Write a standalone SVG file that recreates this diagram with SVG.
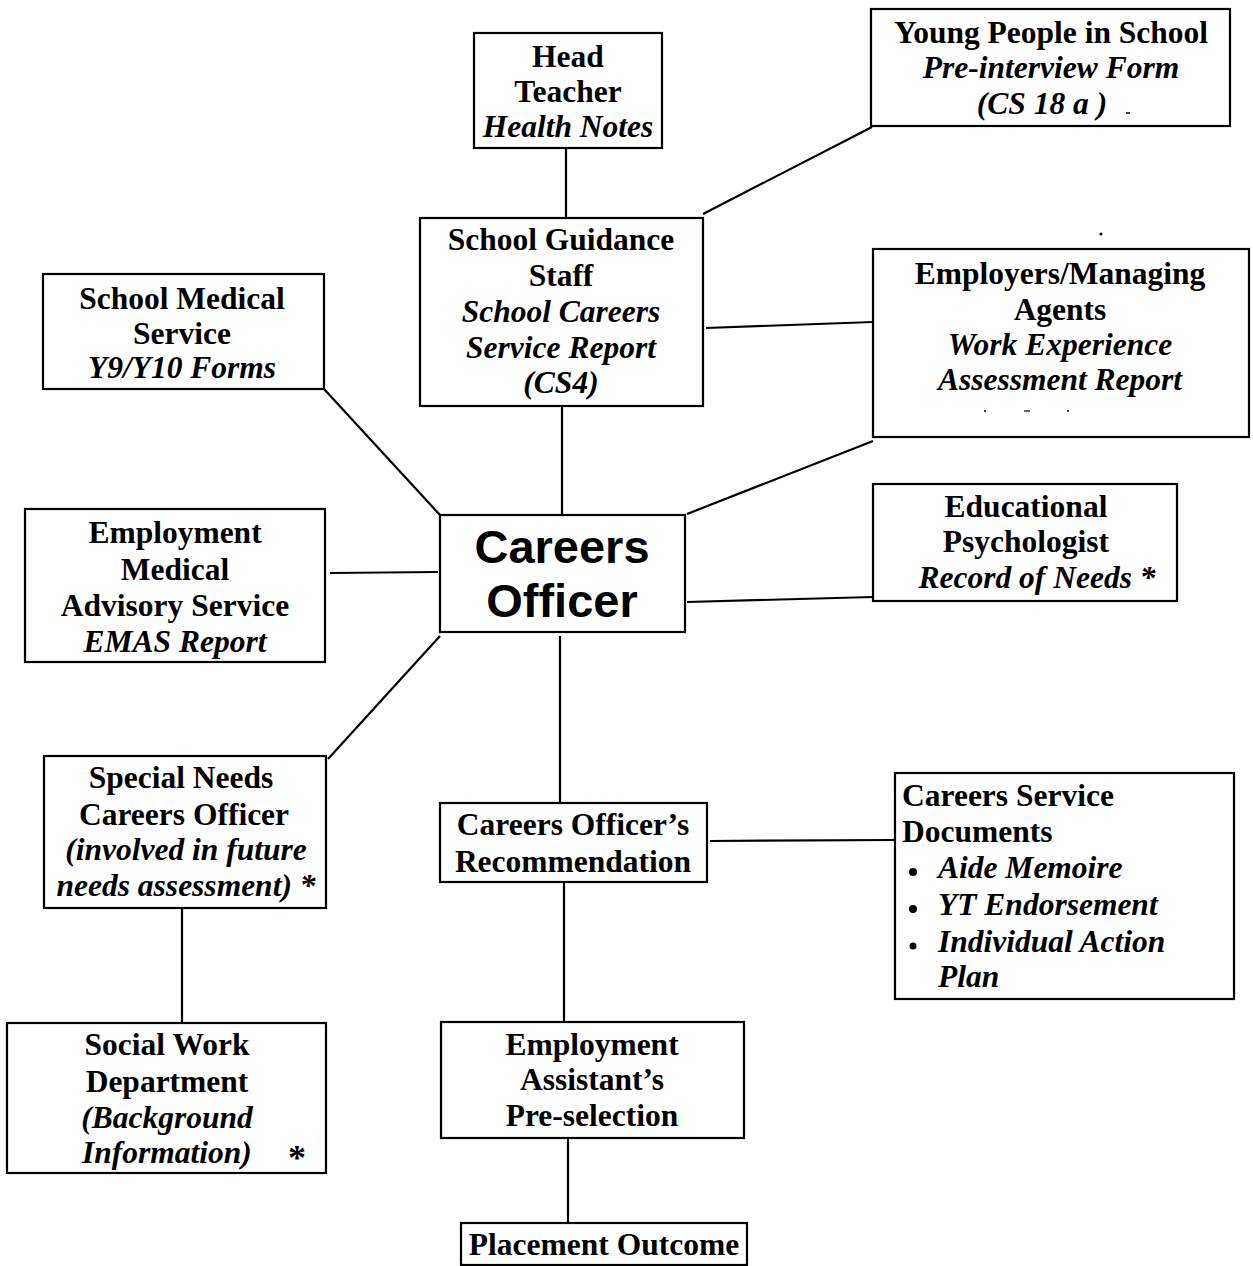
<svg xmlns="http://www.w3.org/2000/svg" width="1253" height="1266" viewBox="0 0 1253 1266">
<style>
  .box { fill: #fff; stroke: #000; stroke-width: 2.2; }
  .t { font-family: "Liberation Serif", "Times New Roman", serif; font-size: 31.5px; font-weight: bold; fill: #000; text-anchor: middle; }
  .i { font-style: italic; }
  .l { text-anchor: start; }
  .co { font-family: "Liberation Sans", Arial, sans-serif; font-size: 47px; font-weight: bold; fill: #000; text-anchor: middle; }
  .conn line { stroke: #000; stroke-width: 2.2; }
</style>
<rect width="1253" height="1266" fill="#fff"/>
<g id="connectors" class="conn">
  <line x1="566" y1="148" x2="566" y2="218"/>
  <line x1="703" y1="214" x2="872" y2="127"/>
  <line x1="706" y1="328" x2="873" y2="322"/>
  <line x1="562" y1="406" x2="562" y2="515"/>
  <line x1="324" y1="389" x2="440" y2="515"/>
  <line x1="330" y1="573" x2="438" y2="572"/>
  <line x1="687" y1="514" x2="873" y2="441"/>
  <line x1="687" y1="602" x2="873" y2="597"/>
  <line x1="440" y1="636" x2="328" y2="759"/>
  <line x1="560" y1="636" x2="560" y2="803"/>
  <line x1="182" y1="908" x2="182" y2="1023"/>
  <line x1="710" y1="841" x2="895" y2="840"/>
  <line x1="564" y1="882" x2="564" y2="1022"/>
  <line x1="568" y1="1138" x2="568" y2="1223"/>
</g>
<g id="head-teacher">
  <rect class="box" x="474" y="33" width="188" height="115"/>
  <text class="t" x="568" y="67">Head</text>
  <text class="t" x="568" y="102">Teacher</text>
  <text class="t i" x="568" y="137">Health Notes</text>
</g>
<g id="young-people">
  <rect class="box" x="871" y="9" width="359" height="117"/>
  <text class="t" x="1051" y="43">Young People in School</text>
  <text class="t i" x="1051" y="78">Pre-interview Form</text>
  <text class="t i" x="1042" y="114">(CS 18 a )</text>
  <line x1="1126" y1="113" x2="1130" y2="113" stroke="#000" stroke-width="1.5"/>
</g>
<g id="school-guidance">
  <rect class="box" x="420" y="218" width="283" height="188"/>
  <text class="t" x="561" y="250">School Guidance</text>
  <text class="t" x="561" y="286">Staff</text>
  <text class="t i" x="561" y="322">School Careers</text>
  <text class="t i" x="561" y="358">Service Report</text>
  <text class="t i" x="561" y="393">(CS4)</text>
</g>
<g id="employers">
  <circle cx="1101" cy="234" r="1.5" fill="#000"/>
  <rect class="box" x="873" y="249" width="376" height="188"/>
  <text class="t" x="1060" y="284">Employers/Managing</text>
  <text class="t" x="1060" y="320">Agents</text>
  <text class="t i" x="1060" y="355">Work Experience</text>
  <text class="t i" x="1060" y="390">Assessment Report</text>
  <circle cx="985" cy="411" r="1" fill="#000"/>
  <line x1="1024" y1="411" x2="1030" y2="411" stroke="#000" stroke-width="1.2"/>
  <circle cx="1068" cy="411" r="1" fill="#000"/>
</g>
<g id="school-medical">
  <rect class="box" x="43" y="274" width="281" height="115"/>
  <text class="t" x="182" y="309">School Medical</text>
  <text class="t" x="182" y="344">Service</text>
  <text class="t i" x="182" y="378">Y9/Y10 Forms</text>
</g>
<g id="emas">
  <rect class="box" x="25" y="509" width="300" height="153"/>
  <text class="t" x="175" y="543">Employment</text>
  <text class="t" x="175" y="580">Medical</text>
  <text class="t" x="175" y="616">Advisory Service</text>
  <text class="t i" x="175" y="652">EMAS Report</text>
</g>
<g id="careers-officer">
  <rect class="box" x="440" y="515" width="245" height="117"/>
  <text class="co" x="562" y="563">Careers</text>
  <text class="co" x="562" y="617">Officer</text>
</g>
<g id="educational-psychologist">
  <rect class="box" x="873" y="484" width="304" height="117"/>
  <text class="t" x="1026" y="517">Educational</text>
  <text class="t" x="1026" y="552">Psychologist</text>
  <text class="t i" x="1037" y="588">Record of Needs *</text>
</g>
<g id="special-needs">
  <rect class="box" x="44" y="756" width="282" height="152"/>
  <text class="t" x="181" y="788">Special Needs</text>
  <text class="t" x="184" y="825">Careers Officer</text>
  <text class="t i" x="186" y="860">(involved in future</text>
  <text class="t i" x="186" y="896">needs assessment) *</text>
</g>
<g id="social-work">
  <rect class="box" x="7" y="1023" width="319" height="150"/>
  <text class="t" x="167" y="1055">Social Work</text>
  <text class="t" x="167" y="1092">Department</text>
  <text class="t i" x="167" y="1128">(Background</text>
  <text class="t i l" x="82" y="1163">Information)</text>
  <text class="t l" x="288" y="1170" style="font-size:36px">*</text>
</g>
<g id="recommendation">
  <rect class="box" x="440" y="803" width="267" height="79"/>
  <text class="t" x="573" y="835">Careers Officer’s</text>
  <text class="t" x="573" y="872">Recommendation</text>
</g>
<g id="careers-service-documents">
  <rect class="box" x="895" y="773" width="339" height="226"/>
  <text class="t l" x="902" y="806">Careers Service</text>
  <text class="t l" x="902" y="842">Documents</text>
  <circle cx="913" cy="872" r="4" fill="#000"/>
  <text class="t i l" x="938" y="878">Aide Memoire</text>
  <circle cx="913" cy="909" r="4" fill="#000"/>
  <text class="t i l" x="938" y="915">YT Endorsement</text>
  <circle cx="913" cy="946" r="3.5" fill="#000"/>
  <text class="t i l" x="938" y="952">Individual Action</text>
  <text class="t i l" x="938" y="987">Plan</text>
</g>
<g id="pre-selection">
  <rect class="box" x="441" y="1022" width="303" height="116"/>
  <text class="t" x="592" y="1055">Employment</text>
  <text class="t" x="592" y="1090">Assistant’s</text>
  <text class="t" x="592" y="1126">Pre-selection</text>
</g>
<g id="placement-outcome">
  <rect class="box" x="461" y="1223" width="286" height="42"/>
  <text class="t" x="604" y="1255">Placement Outcome</text>
</g>
</svg>
